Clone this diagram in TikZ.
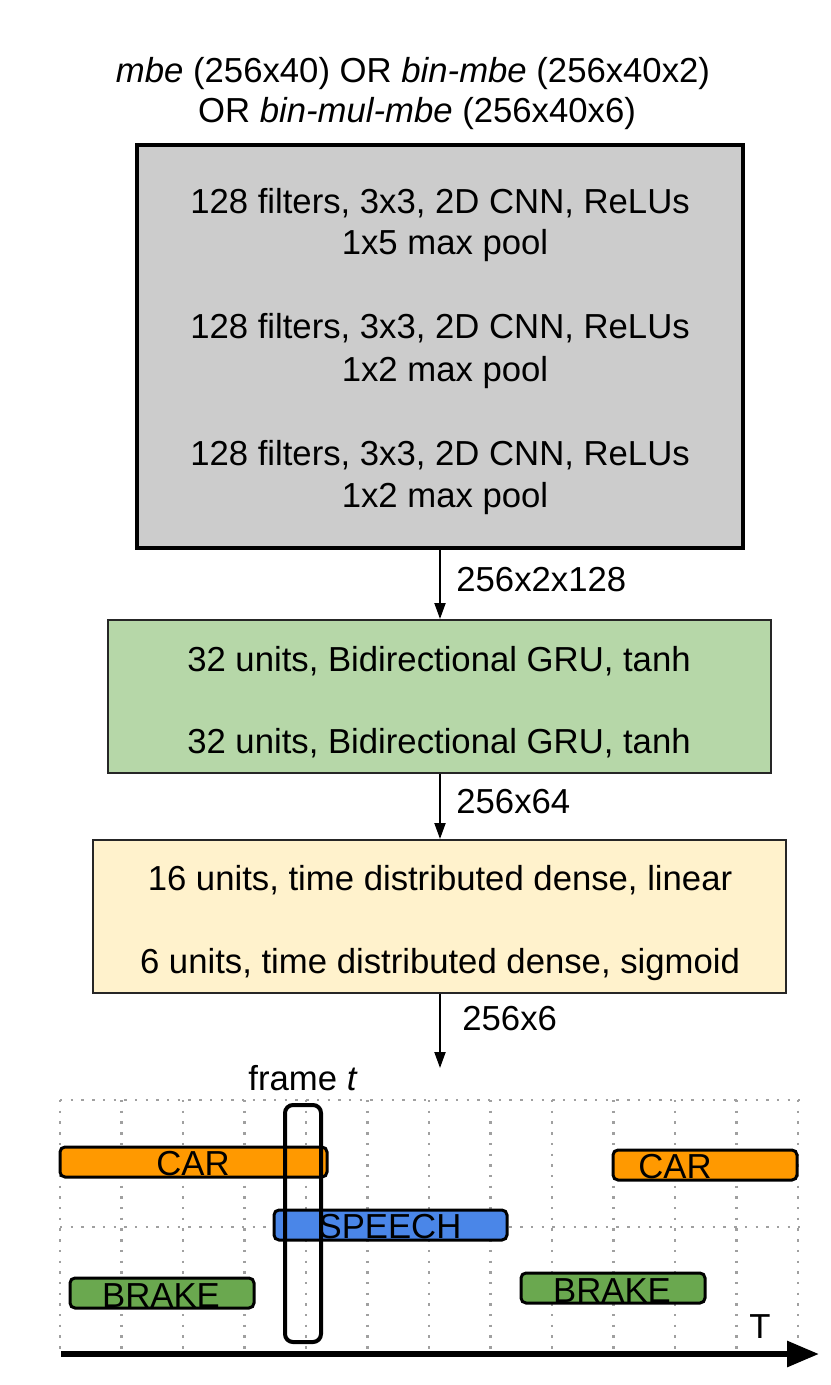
\documentclass[tikz,border=0pt]{standalone}
\usepackage{fontspec}
\setmainfont{Liberation Sans}
\usetikzlibrary{arrows.meta}
\definecolor{boxgray}{HTML}{CCCCCC}
\definecolor{boxgreen}{HTML}{B6D7A8}
\definecolor{boxyellow}{HTML}{FFF2CC}
\definecolor{barorange}{HTML}{FF9900}
\definecolor{barblue}{HTML}{4A86E8}
\definecolor{bargreen}{HTML}{6AA84F}
\definecolor{gridgray}{HTML}{A0A0A0}
\begin{document}
\begin{tikzpicture}[x=0.5pt,y=-0.5pt,
  font=\fontsize{17.35pt}{20.5pt}\selectfont,
  txt/.style={inner sep=0pt, anchor=base},
  lbl/.style={inner sep=0pt, anchor=base west},
  layerbox/.style={rectangle, inner sep=0pt},
  graybox/.style={layerbox, draw=black, line width=2pt, fill=boxgray},
  greenbox/.style={layerbox, draw=black!85, line width=1pt, fill=boxgreen},
  yellowbox/.style={layerbox, draw=black!85, line width=1pt, fill=boxyellow},
  arr/.style={line width=1pt, -{Triangle[length=8pt,width=5.5pt]}},
  gridline/.style={gridgray, line width=1.2pt, dash pattern=on 1.2pt off 4.15pt},
  bar/.style={rectangle, rounded corners=2.5pt, draw=black, line width=1.5pt, inner sep=0pt, minimum height=15pt},
  framebox/.style={rectangle, rounded corners=4pt, draw=black, line width=2pt, inner sep=0pt},
  axis/.style={line width=3pt, -{Triangle[length=16pt,width=12.5pt]}}
]
\useasboundingbox (0,0) rectangle (830,1385);

% title
\node[txt] (t1) at (413,83) {\textit{mbe} (256x40) OR \textit{bin-mbe} (256x40x2)};
\node[txt] (t2) at (417,123) {OR \textit{bin-mul-mbe} (256x40x6)};

% CNN block
\node[graybox, minimum width=303pt, minimum height=201.5pt] (cnn) at (440,346.5) {};
\node[txt] (c1) at (440,214) {128 filters, 3x3, 2D CNN, ReLUs};
\node[txt] (c2) at (445,255) {1x5 max pool};
\node[txt] (c3) at (440,339) {128 filters, 3x3, 2D CNN, ReLUs};
\node[txt] (c4) at (445,381) {1x2 max pool};
\node[txt] (c5) at (440,465) {128 filters, 3x3, 2D CNN, ReLUs};
\node[txt] (c6) at (445,507) {1x2 max pool};

% GRU block
\node[greenbox, minimum width=331.5pt, minimum height=76.5pt] (gru) at (439.5,696.5) {};
\node[txt] (g1) at (439,671) {32 units, Bidirectional GRU, tanh};
\node[txt] (g2) at (439,753) {32 units, Bidirectional GRU, tanh};

% dense block
\node[yellowbox, minimum width=346.5pt, minimum height=76.5pt] (dense) at (439.5,916.5) {};
\node[txt] (d1) at (440,890) {16 units, time distributed dense, linear};
\node[txt] (d2) at (440,973) {6 units, time distributed dense, sigmoid};

% connectors
\draw[arr] (cnn.south) -- (cnn.south |- gru.north);
\node[lbl] (l1) at (456,591) {256x2x128};
\draw[arr] (cnn.south |- gru.south) -- (cnn.south |- dense.north);
\node[lbl] (l2) at (456,813) {256x64};
\coordinate (a3end) at (440,1068);
\draw[arr] (a3end |- dense.south) -- (a3end);
\node[lbl] (l3) at (462,1030) {256x6};

% output timeline
\node[txt] (ft) at (303,1090) {frame \textit{t}};
\foreach \k in {0,...,12} {
  \draw[gridline] ({60+61.5*\k},1100) -- ({60+61.5*\k},1350);
}
\draw[gridline] (60,1100) -- (800,1100);
\draw[gridline] (60,1227) -- (800,1227);

\node[bar, fill=barorange, minimum width=133.5pt] (car1) at (193.5,1162) {};
\node[txt] (car1t) at (193,1175) {CAR};
\node[bar, fill=barorange, minimum width=92pt] (car2) at (705,1165) {};
\node[txt] (car2t) at (675,1178) {CAR};
\node[bar, fill=barblue, minimum width=116.5pt] (speech) at (390.5,1225) {};
\node[txt] (speecht) at (390,1238) {SPEECH};
\node[bar, fill=bargreen, minimum width=92pt] (brake1) at (162,1293) {};
\node[txt] (brake1t) at (161,1307) {BRAKE};
\node[bar, fill=bargreen, minimum width=92pt] (brake2) at (613,1288) {};
\node[txt] (brake2t) at (612,1302) {BRAKE};

\node[framebox, minimum width=18pt, minimum height=118.5pt] (frame) at (303,1223.5) {};

\coordinate (axs) at (61,1354);
\coordinate (axe) at (819,1354);
\draw[axis] (axs) -- (axe);
\node[txt] (T) at (760,1338) {T};
\end{tikzpicture}
\end{document}
